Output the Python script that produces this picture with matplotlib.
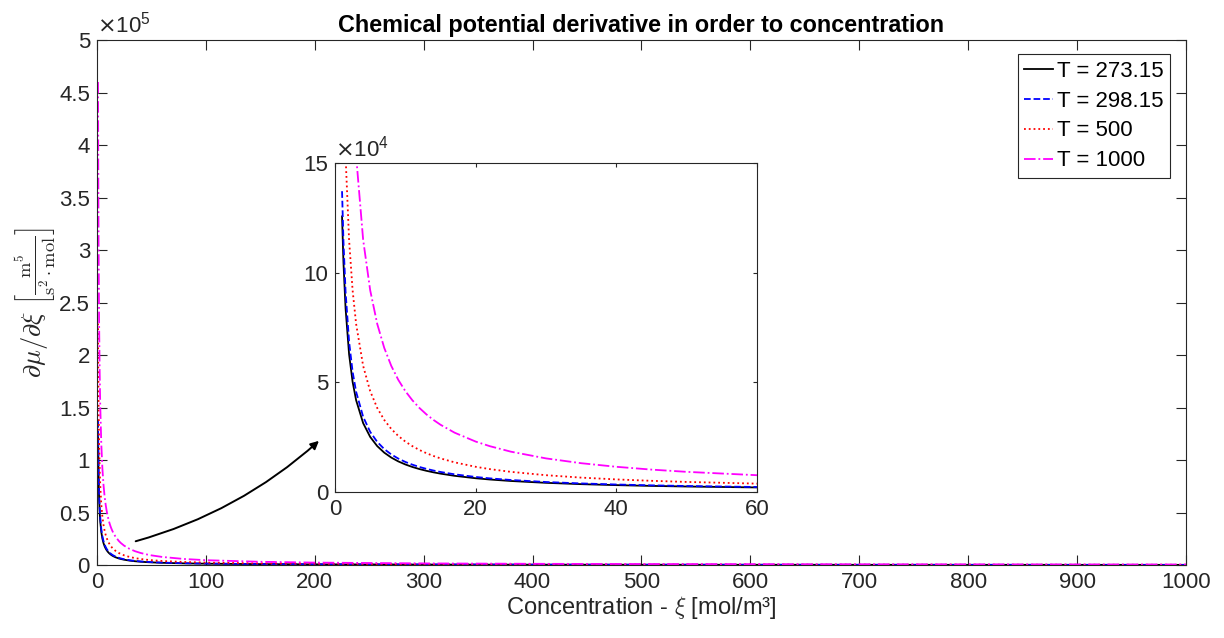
import numpy as np
import matplotlib
matplotlib.use('Agg')
import matplotlib.pyplot as plt
from matplotlib.ticker import FuncFormatter, MultipleLocator
from matplotlib.patches import FancyArrowPatch

plt.rcParams.update({
    'font.family': ['Liberation Sans', 'DejaVu Sans'],
    'font.size': 16,
    'axes.edgecolor': '#262626',
    'axes.linewidth': 0.8,
    'xtick.color': '#262626',
    'ytick.color': '#262626',
    'xtick.direction': 'in',
    'ytick.direction': 'in',
    'xtick.top': True,
    'ytick.right': True,
})

# concentration samples [mol/m^3]
xi = [1, 1.2, 1.5, 2, 2.5, 3, 4, 5, 6, 7, 8, 9, 10, 11, 12, 13, 14, 15, 17,
      20, 22, 25, 30, 35, 40, 45, 50, 60, 80, 100, 150, 200, 300, 400, 500,
      700, 1000]

# d(mu)/d(xi) for each temperature
dmu_273 = [125650, 104710, 83770, 62830, 50260, 41880, 31410, 25130, 20940,
           17950, 15710, 13960, 12570, 11420, 10470, 9670, 8980, 8380, 7390,
           6280, 5710, 5030, 4190, 3590, 3140, 2790, 2510, 2090, 1570, 1260,
           840, 630, 420, 310, 250, 180, 130]
dmu_298 = [137150, 114290, 91430, 68580, 54860, 45720, 34290, 27430, 22860,
           19590, 17140, 15240, 13720, 12470, 11430, 10550, 9800, 9140, 8070,
           6860, 6230, 5490, 4570, 3920, 3430, 3050, 2740, 2290, 1710, 1370,
           910, 690, 460, 340, 270, 200, 140]
dmu_500 = [230000, 191670, 153330, 115000, 92000, 76670, 57500, 46000, 38330,
           32860, 28750, 25560, 23000, 20910, 19170, 17690, 16430, 15330,
           13530, 11500, 10450, 9200, 7670, 6570, 5750, 5110, 4600, 3830,
           2880, 2300, 1530, 1150, 770, 580, 460, 330, 230]
dmu_1000 = [460000, 383330, 306670, 230000, 184000, 153330, 115000, 92000,
            76670, 65710, 57500, 51110, 46000, 41820, 38330, 35380, 32860,
            30670, 27060, 23000, 20910, 18400, 15330, 13140, 11500, 10220,
            9200, 7670, 5750, 4600, 3070, 2300, 1530, 1150, 920, 660, 460]

series = [
    ('T = 273.15', dmu_273, '#000000', '-'),
    ('T = 298.15', dmu_298, '#0000ff', '--'),
    ('T = 500', dmu_500, '#ff0000', ':'),
    ('T = 1000', dmu_1000, '#ff00ff', '-.'),
]


def draw_curves(ax):
    for label, vals, color, ls in series:
        ax.plot(xi, vals, color=color, linestyle=ls, linewidth=1.3, label=label)


def sci_axis(ax, exponent):
    ax.yaxis.set_major_formatter(FuncFormatter(lambda v, p: f'{v / 10**exponent:g}'))
    ax.text(0.0, 1.004, r'$\times\mathdefault{10^{%d}}$' % exponent,
            transform=ax.transAxes, ha='left', va='bottom', color='#262626',
            fontsize=16)


fig = plt.figure(figsize=(12.24, 6.38), dpi=100)

# main axes
ax = fig.add_axes([0.0792, 0.1144, 0.8897, 0.8229])
draw_curves(ax)
ax.set_xlim(0, 1000)
ax.set_ylim(0, 5e5)
ax.xaxis.set_major_locator(MultipleLocator(100))
ax.yaxis.set_major_locator(MultipleLocator(0.5e5))
ax.tick_params(length=7.5, width=0.8, labelsize=16, pad=5)
sci_axis(ax, 5)
ax.set_title('Chemical potential derivative in order to concentration',
             fontsize=16.8, fontweight='bold', pad=6)
ax.set_xlabel(r'Concentration - $\xi$ [mol/m³]', fontsize=17,
              math_fontfamily='cm', labelpad=1, color='#262626')
ax.set_ylabel(r'$\partial\mu/\partial\xi\ \left[\frac{\mathrm{m}^5}{\mathrm{s}^2\cdot\mathrm{mol}}\right]$',
              fontsize=19, math_fontfamily='cm', color='#262626', labelpad=0)

leg = ax.legend(loc='upper right', bbox_to_anchor=(0.9853, 0.9733),
                borderaxespad=0, fancybox=False, framealpha=1,
                edgecolor='#262626', fontsize=16, handlelength=1.3,
                handletextpad=0.15, borderpad=0.3, labelspacing=0.4)
leg.get_frame().set_linewidth(0.8)

# zoomed inset near the origin
axin = fig.add_axes([0.2737, 0.2288, 0.3448, 0.5157])
draw_curves(axin)
axin.set_xlim(0, 60)
axin.set_ylim(0, 15e4)
axin.xaxis.set_major_locator(MultipleLocator(20))
axin.yaxis.set_major_locator(MultipleLocator(5e4))
axin.tick_params(length=3, width=0.8, labelsize=16, pad=5)
sci_axis(axin, 4)

# curved arrow pointing into the inset
arrow = FancyArrowPatch((133, 638 - 542), (321, 638 - 439),
                        transform=None, connectionstyle='arc3,rad=0.12',
                        arrowstyle='-|>', mutation_scale=12, linewidth=1.4,
                        color='k')
fig.patches.append(arrow)

fig.savefig('out.png', dpi=100)
